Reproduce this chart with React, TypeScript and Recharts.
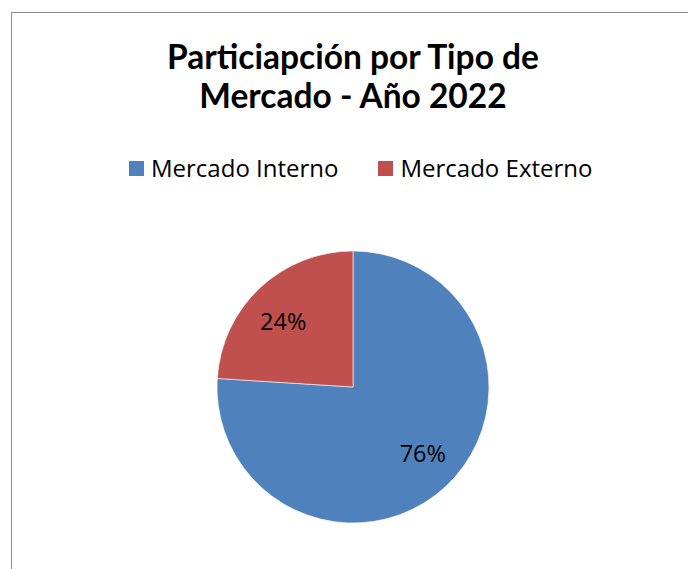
import React from 'react';
import { PieChart, Pie, Cell } from 'recharts';

const MARKETS = ['Mercado Interno', 'Mercado Externo'];
const SHARES = [76, 24];
const COLORS = ['#4F81BD', '#C0504D'];
const TITLE_LINES = ['Particiapción por Tipo de', 'Mercado - Año 2022'];

const data = MARKETS.map((name, i) => ({ name, value: SHARES[i] }));

const TITLE_FONT = 'Lato, "Open Sans", sans-serif';
const FONT = '"Open Sans", Lato, sans-serif';
const RADIAN = Math.PI / 180;

// labels sit inside the slice, a bit wider than tall like the Excel original
const renderLabel = (props: any) => {
  const { cx, cy, midAngle, outerRadius, percent } = props;
  const x = cx + outerRadius * 0.75 * Math.cos(-midAngle * RADIAN);
  const y = cy + outerRadius * 0.67 * Math.sin(-midAngle * RADIAN);
  return (
    <text x={x} y={y} fill="#000" textAnchor="middle" dominantBaseline="central" fontFamily={FONT} fontSize={23.5}>
      {`${Math.round(percent * 100)}%`}
    </text>
  );
};

export default function App() {
  return (
    <div style={{ position: 'absolute', left: 0, top: 0, width: 688, height: 569, overflow: 'hidden', background: '#fff' }}>
      {/* chart frame, cropped on the right and bottom */}
      <div style={{ position: 'absolute', left: 11, top: 12, width: 720, height: 600, border: '1.5px solid #8a8a8a', boxSizing: 'border-box' }} />

      {/* title */}
      <div style={{ position: 'absolute', left: 0, top: 37, width: 706, textAlign: 'center', fontFamily: TITLE_FONT, fontWeight: 'bold', fontSize: 33.5, lineHeight: '39px', color: '#000' }}>
        {TITLE_LINES.map((t) => (
          <div key={t}>{t}</div>
        ))}
      </div>

      {/* legend */}
      <div style={{ position: 'absolute', left: 129, top: 152, display: 'flex', alignItems: 'center', fontFamily: FONT, fontSize: 24, lineHeight: '32px', color: '#000' }}>
        {MARKETS.map((m, i) => (
          <div key={m} style={{ display: 'flex', alignItems: 'center', marginRight: i === 0 ? 40 : 0 }}>
            <span style={{ display: 'inline-block', width: 15, height: 15, background: COLORS[i], marginRight: 7 }} />
            <span>{m}</span>
          </div>
        ))}
      </div>

      <div style={{ position: 'absolute', left: 0, top: 0 }}>
        <PieChart width={688} height={569} margin={{ top: 0, right: 0, bottom: 0, left: 0 }}>
          <Pie
            data={data}
            dataKey="value"
            nameKey="name"
            cx={353}
            cy={387}
            outerRadius={136}
            startAngle={90}
            endAngle={-270}
            stroke="#ffffff"
            strokeWidth={0.6}
            label={renderLabel}
            labelLine={false}
            isAnimationActive={false}
          >
            {data.map((d, i) => (
              <Cell key={d.name} fill={COLORS[i]} />
            ))}
          </Pie>
        </PieChart>
      </div>
    </div>
  );
}
